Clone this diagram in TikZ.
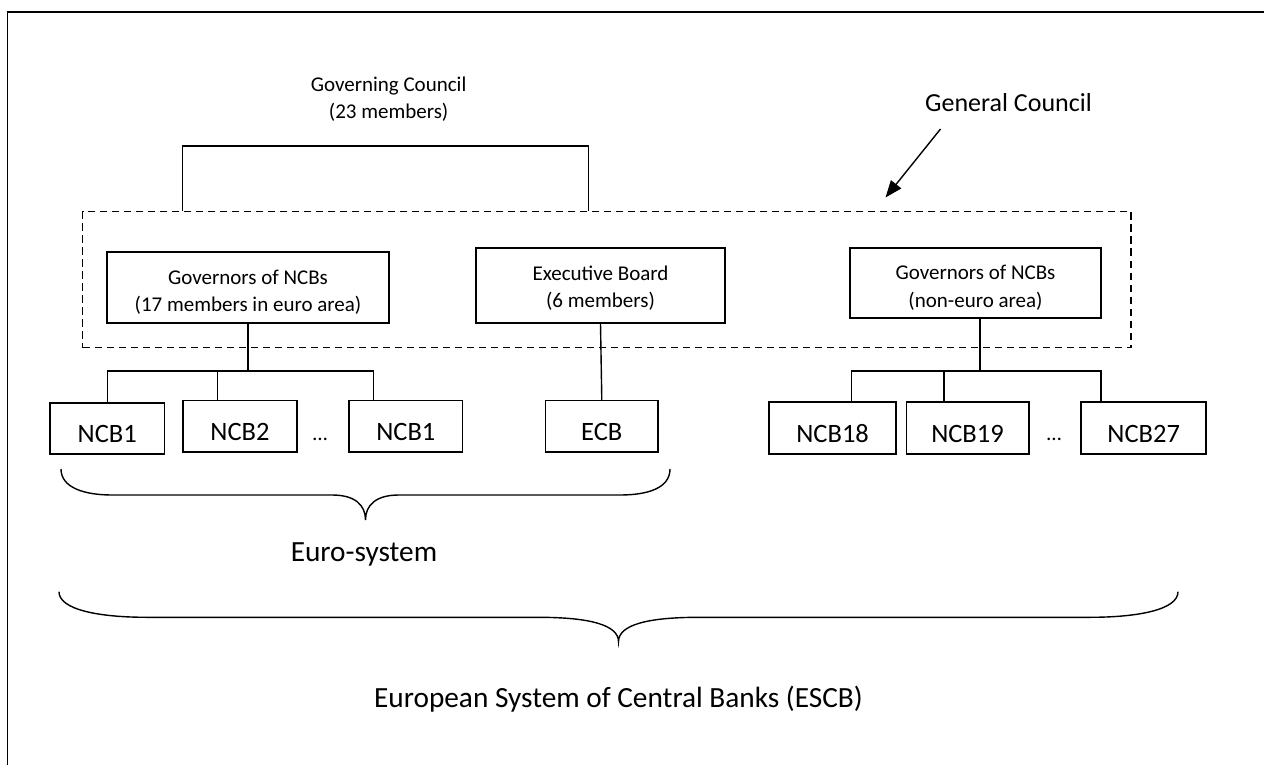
\documentclass[tikz,border=0pt]{standalone}
\usepackage{fontspec}
\setmainfont{Carlito}
\usetikzlibrary{calc,arrows.meta}
\begin{document}
\begin{tikzpicture}[x=1pt,y=-1pt,
  box/.style={draw=black, line width=1.6pt, inner sep=0pt},
  small/.style={font=\fontsize{21}{27.3}\selectfont, align=center, inner sep=0pt},
  big/.style={font=\fontsize{26}{31}\selectfont, inner sep=0pt},
  label/.style={font=\fontsize{29.3}{34}\selectfont, inner sep=0pt},
  ncb/.style={box, font=\fontsize{26.5}{31}\selectfont, text height=29pt, text depth=0pt, minimum height=51.5pt},
  conn/.style={line width=1.4pt},
  gbox/.style={draw=black, line width=1.5pt, dash pattern=on 7.5pt off 4.5pt, inner sep=0pt}]
\clip (0,0) rectangle (1264,765);
\useasboundingbox (0,0) rectangle (1264,765);
\fill[white] (0,0) rectangle (1264,765);
\draw[line width=1.7pt] (7.5,12) rectangle (1300,800);

% top level labels
\node[small] (gc) at (388.6,99.4) {Governing Council\\(23 members)};
\node[big, anchor=base] (genc) at (1008.5,111.7) {General Council};

% dashed General Council box
\node[gbox, minimum width=1048.3pt, minimum height=136pt] (genbox) at (606.85,279.7) {};

% boxes inside
\node[box, minimum width=282pt, minimum height=70.5pt] (gov1) at (248,287.5) {};
\node[box, minimum width=249.5pt, minimum height=74.5pt] (exec) at (600.5,285.5) {};
\node[box, minimum width=251pt, minimum height=70pt] (gov3) at (975.5,283.2) {};
\node[small] (gov1t) at ($(gov1.center)+(0,4.7)$) {Governors of NCBs\\(17 members in euro area)};
\node[small] (exect) at ($(exec.center)+(0,2.6)$) {Executive Board\\(6 members)};
\node[small] (gov3t) at ($(gov3.center)+(0,4.5)$) {Governors of NCBs\\(non-euro area)};

% bottom row
\node[ncb, minimum width=114.3pt, minimum height=51pt] (ncb1) at (107.2,428.2) {NCB1};
\node[ncb, minimum width=114pt] (ncb2) at (240,426.3) {NCB2};
\node[small, anchor=base] (dots1) at (320,440.5) {…};
\node[ncb, minimum width=113.6pt] (ncb1b) at (405.8,426.2) {NCB1};
\node[ncb, minimum width=112.5pt] (ecb) at (601.8,426.3) {ECB};
\node[ncb, minimum width=126.7pt, minimum height=52pt] (ncb18) at (832.6,428) {NCB18};
\node[ncb, minimum width=122.4pt, minimum height=52pt] (ncb19) at (967.5,428) {NCB19};
\node[small, anchor=base] (dots2) at (1054,440.5) {…};
\node[ncb, minimum width=125pt, minimum height=52pt] (ncb27) at (1143.7,428) {NCB27};

% Governing Council bracket
\coordinate (gl) at ($(genbox.north west)+(100.5,0)$);
\coordinate (gr) at ($(genbox.north west)+(506.6,0)$);
\draw[conn] (gl) -- ++(0,-65) -| (gr);

% General Council arrow
\coordinate (as) at (940.5,129);
\coordinate (ae) at (885.5,197.5);
\draw[conn, -{Triangle[length=17pt,width=13pt]}] (as) -- (ae);

% euro tree
\coordinate (bus) at (0,371);
\coordinate (t1) at (ncb1.north);
\coordinate (t2) at ($(ncb2.north west)+(35,0)$);
\coordinate (t3) at ($(ncb1b.north west)+(25,0)$);
\draw[conn] (gov1.south) -- (gov1.south |- bus);
\draw[conn] (t1) -- (t1 |- bus) -- (t3 |- bus) -- (t3);
\draw[conn] (t2) -- (t2 |- bus);

% executive board to ECB
\draw[conn] (exec.south) -- (ecb.north);

% non-euro tree
\coordinate (g3b) at ($(gov3.south)+(4.5,0)$);
\coordinate (u1) at ($(ncb18.north west)+(83,0)$);
\coordinate (u2) at ($(ncb19.north west)+(38.5,0)$);
\coordinate (u3) at ($(ncb27.north west)+(20.5,0)$);
\draw[conn] (g3b) -- (g3b |- bus);
\draw[conn] (u1) -- (u1 |- bus) -- (u3 |- bus) -- (u3);
\draw[conn] (u2) -- (u2 |- bus);

% braces
\draw[conn] (61,469) .. controls (61,488) and (85,495) .. (112,495) -- (332,495)
  .. controls (355,495) and (365.5,505) .. (365.5,520)
  .. controls (365.5,505) and (376,495) .. (399,495) -- (620,495)
  .. controls (648,495) and (670,488) .. (670,469);
\node[label, anchor=base] (euro) at (364,561.7) {Euro-system};

\draw[conn] (59,591.7) .. controls (59,610) and (100,617.3) .. (147,617.3) -- (538,617.3)
  .. controls (590,617.3) and (618.5,625) .. (618.5,641.7)
  .. controls (618.5,625) and (647,617.3) .. (699,617.3) -- (1090,617.3)
  .. controls (1137,617.3) and (1178,610) .. (1178,591.7);
\node[label, anchor=base] (escb) at (618.5,707.7) {European System of Central Banks (ESCB)};
\end{tikzpicture}
\end{document}
